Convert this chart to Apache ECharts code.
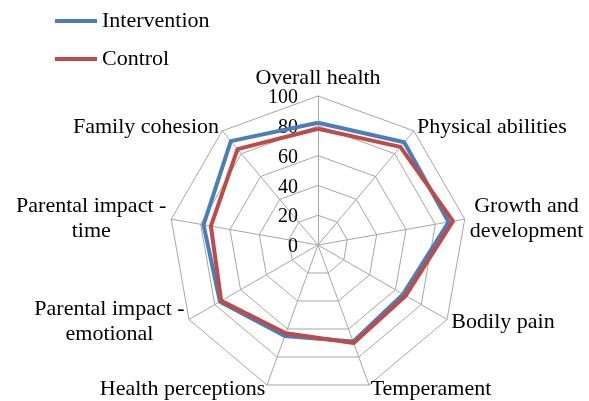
<!DOCTYPE html>
<html>
<head>
<meta charset="utf-8">
<script src="https://cdn.jsdelivr.net/npm/echarts@6/dist/echarts.min.js"></script>
<style>html,body{margin:0;padding:0;background:#fff}#c{width:589px;height:401px}</style>
</head>
<body>
<div id="c"></div>
<script>
// Indicators in clockwise order starting at the top
const categories = ["Overall health", "Physical abilities", "Growth and\ndevelopment", "Bodily pain", "Temperament", "Health perceptions", "Parental impact -\nemotional", "Parental impact -\ntime", "Family cohesion"];
const intervention = [82, 90, 89, 66, 69, 65, 76, 78, 91];
const control = [78, 86, 92, 68, 70, 63, 75, 73, 84];
const seriesNames = ["Intervention", "Control"];
const tickValues = [0, 20, 40, 60, 80, 100];

// ECharts places radar indicators counterclockwise; reorder to get clockwise layout
function cw(arr) { return [arr[0]].concat(arr.slice(1).reverse()); }

const font = "'Liberation Serif', 'Times New Roman', serif";
const chart = echarts.init(document.getElementById('c'), null, {renderer: 'canvas'});
chart.setOption({
  animation: false,
  legend: {
    orient: 'vertical', left: 55, top: 10, itemGap: 16, padding: 0,
    itemWidth: 42, itemHeight: 4, icon: 'rect',
    textStyle: {fontFamily: font, fontSize: 22, color: '#000'},
    data: seriesNames
  },
  grid: {left: 318, top: 98, width: 1, height: 149, containLabel: false},
  xAxis: {type: 'value', show: false},
  yAxis: {
    type: 'value', min: 0, max: 100, interval: 20,
    axisLine: {show: false}, axisTick: {show: false}, splitLine: {show: false},
    axisLabel: {margin: 20, fontFamily: font, fontSize: 20, color: '#000',
      customValues: tickValues}
  },
  radar: {
    center: [318, 245], radius: 149, startAngle: 90,
    shape: 'polygon', splitNumber: 5,
    indicator: cw(categories).map(n => ({name: n, min: 0, max: 100})),
    axisName: {
      fontFamily: font, fontSize: 22, color: '#000', lineHeight: 25,
      formatter: function (name) {
        return name.split('\n').map(function (l) { return '{c|' + l + '}'; }).join('\n');
      },
      rich: {c: {align: 'center', fontFamily: font, fontSize: 22, color: '#000', lineHeight: 25}}
    },
    nameGap: 5,
    splitLine: {lineStyle: {color: '#a6a6a6', width: 1}},
    splitArea: {show: false},
    axisLine: {lineStyle: {color: '#a6a6a6', width: 1}},
    axisTick: {show: false}, axisLabel: {show: false}
  },
  series: [{
    type: 'radar', symbol: 'none',
    data: [
      {name: seriesNames[0], value: cw(intervention), lineStyle: {color: '#4a7ebb', width: 4}, itemStyle: {color: '#4a7ebb'}},
      {name: seriesNames[1], value: cw(control), lineStyle: {color: '#be4b48', width: 4}, itemStyle: {color: '#be4b48'}}
    ]
  }]
});
</script>
</body>
</html>
